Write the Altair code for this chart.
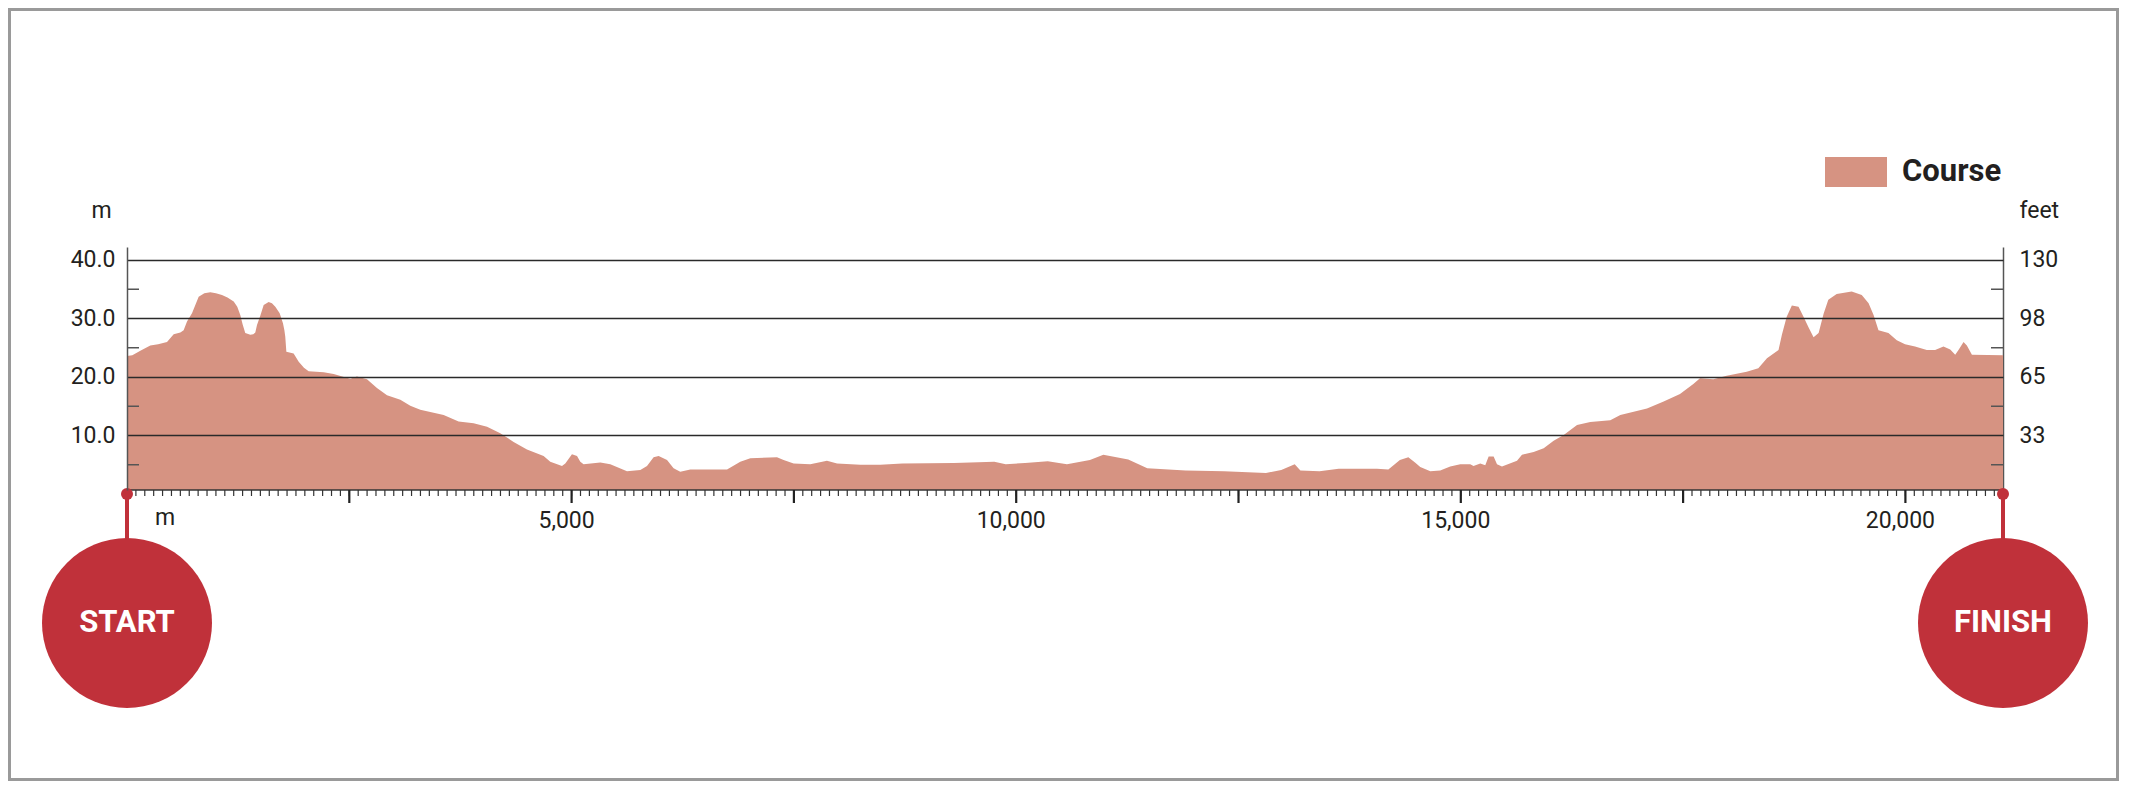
import altair as alt
import pandas as pd

# ---------------- data ----------------
DIST = [0, 60, 150, 262, 350, 450, 525, 600, 637, 675, 731, 806, 870, 937, 1000,
        1068, 1130, 1200, 1240, 1274, 1300, 1330, 1387, 1420, 1443, 1462, 1500,
        1537, 1593, 1630, 1668, 1717, 1754, 1770, 1780, 1792, 1874, 1931, 1990,
        2043, 2212, 2324, 2420, 2511, 2586, 2699, 2811, 2924, 3074, 3186, 3298,
        3561, 3729, 3898, 4049, 4198, 4348, 4498, 4685, 4760, 4892, 4929, 5004,
        5061, 5098, 5135, 5323, 5435, 5623, 5773, 5848, 5922, 5979, 6073, 6147,
        6222, 6335, 6748, 6897, 7010, 7310, 7384, 7497, 7684, 7872, 7985, 8247,
        8472, 8720, 9300, 9754, 9882, 10100, 10355, 10571, 10829, 10980, 11260,
        11474, 11905, 12336, 12809, 12981, 13132, 13196, 13411, 13627, 14056,
        14185, 14315, 14410, 14485, 14544, 14657, 14769, 14881, 14994, 15106,
        15143, 15219, 15275, 15313, 15369, 15407, 15463, 15632, 15688, 15819,
        15932, 16044, 16157, 16307, 16456, 16681, 16794, 17094, 17281, 17465,
        17615, 17690, 17840, 17990, 18215, 18346, 18443, 18573, 18611, 18665,
        18723, 18798, 18854, 18910, 18967, 19024, 19080, 19133, 19227, 19396,
        19509, 19586, 19642, 19697, 19809, 19903, 19996, 20108, 20240, 20334,
        20428, 20504, 20560, 20597, 20654, 20691, 20748, 21097.5]

ELEV = [23.6, 23.7, 24.5, 25.4, 25.6, 26.0, 27.3, 27.6, 28.0, 29.5, 30.9, 33.7, 34.3,
        34.5, 34.3, 34.0, 33.6, 32.9, 32.0, 30.6, 29.0, 27.5, 27.2, 27.3, 27.6, 28.9,
        30.5, 32.3, 32.8, 32.6, 32.0, 30.9, 29.2, 28.0, 26.9, 24.3, 24.0, 22.6, 21.6,
        21.0, 20.8, 20.5, 20.1, 19.7, 20.1, 19.6, 18.1, 16.9, 16.1, 15.1, 14.4, 13.5,
        12.4, 12.1, 11.5, 10.4, 8.9, 7.6, 6.5, 5.5, 4.8, 5.2, 6.8, 6.5, 5.5, 5.1, 5.4,
        5.1, 3.9, 4.1, 4.8, 6.3, 6.5, 5.8, 4.4, 3.8, 4.2, 4.2, 5.5, 6.1, 6.3, 5.8, 5.2,
        5.1, 5.7, 5.2, 5.0, 5.0, 5.2, 5.3, 5.5, 5.1, 5.3, 5.6, 5.1, 5.8, 6.7, 5.9, 4.4,
        4.0, 3.9, 3.6, 4.1, 5.1, 4.0, 3.9, 4.3, 4.3, 4.2, 5.8, 6.3, 5.4, 4.6, 3.9, 4.0,
        4.7, 5.1, 5.1, 4.8, 5.2, 4.9, 6.4, 6.4, 5.1, 4.7, 5.7, 6.7, 7.2, 7.8, 9.1, 10.1,
        11.8, 12.3, 12.6, 13.5, 14.6, 15.8, 17.1, 18.8, 19.8, 19.6, 20.2, 20.9, 21.5,
        23.2, 24.6, 27.2, 30.3, 32.2, 32.0, 30.3, 28.5, 26.8, 27.5, 30.8, 33.2, 34.2,
        34.6, 34.0, 32.6, 30.6, 28.0, 27.5, 26.3, 25.6, 25.2, 24.6, 24.6, 25.2, 24.7,
        23.8, 24.6, 26.0, 25.4, 23.8, 23.7]

SERIES = "Course"
GRID_M = [10, 20, 30, 40]
FEET_LABELS = ["33", "65", "98", "130"]
INNER_TICKS_M = [5, 15, 25, 35]
MAJOR_TICKS = [2500, 5000, 7500, 10000, 12500, 15000, 17500, 20000]
LABEL_TICKS = [5000, 10000, 15000, 20000]
MINOR_TICKS = list(range(0, 21001, 100))
X_UNIT = "m"
MARKERS = ["START", "FINISH"]
MARKER_DIST = [0, 21097.5]

# ---------------- style ----------------
W, H = 1876, 243
X_MAX = 21097.5
Y_MIN, Y_MAX = 0.684, 42.22
AREA_COLOR = "#D69382"
RED = "#C0313A"
INK = "#231f20"
AXIS_GREY = "#555555"
TICK = "#333333"
FONT = "Roboto"
FS = 23
CIRCLE_Y = 376
CIRCLE_D = 170

xscale = alt.Scale(domain=[0, X_MAX], nice=False, zero=False)
yscale = alt.Scale(domain=[Y_MIN, Y_MAX], nice=False, zero=False)

df = pd.DataFrame({"dist": DIST, "elev": ELEV, "series": [SERIES] * len(DIST)})

feet_expr = " : ".join(
    f"datum.value === {m} ? '{f}'" for m, f in zip(GRID_M, FEET_LABELS)
) + " : ''"

# frame around the whole graphic
frame = alt.Chart(pd.DataFrame({"k": [0]})).mark_rect(
    fill="white", fillOpacity=0, stroke="#9a9a9a", strokeWidth=3
).encode(
    x=alt.value(-117.5), x2=alt.value(W + 114.5),
    y=alt.value(-237.5), y2=alt.value(532.5),
)

area = alt.Chart(df).mark_area(interpolate="linear", opacity=1).encode(
    x=alt.X("dist:Q", scale=xscale, axis=None),
    y=alt.Y("elev:Q", scale=yscale, stack=None, axis=alt.Axis(
        orient="left", values=GRID_M, format=".1f", ticks=False, tickSize=0,
        domainColor=AXIS_GREY, domainWidth=1.5, grid=True, gridColor="#2a2a2a",
        gridWidth=1.3, zindex=1, labelPadding=12, labelFont=FONT, labelFontSize=FS,
        labelColor=INK, title="m", titleAngle=0, titleX=-26, titleY=-30,
        titleAlign="center", titleBaseline="alphabetic", titleFont=FONT,
        titleFontSize=FS, titleFontWeight="normal", titleColor=INK)),
    y2=alt.value(H),
    color=alt.Color("series:N", scale=alt.Scale(domain=[SERIES], range=[AREA_COLOR]),
                    legend=alt.Legend(
                        title=None, orient="none", legendX=1698, legendY=-106,
                        symbolType="M-1,-0.48H1V0.48H-1Z", symbolSize=3844,
                        symbolStrokeWidth=0, symbolOpacity=1, padding=0,
                        labelFont=FONT, labelFontSize=31, labelFontWeight="bold",
                        labelColor=INK, labelOffset=15)),
)

# distance axis drawn from the x scale: baseline, 100 m ticks, 2,500 m ticks, labels
baseline = alt.Chart(pd.DataFrame({"k": [0]})).mark_rule(
    color=TICK, strokeWidth=1.5
).encode(x=alt.value(0), x2=alt.value(W), y=alt.value(H))

minor = alt.Chart(pd.DataFrame({"dist": MINOR_TICKS})).mark_rule(
    color=TICK, strokeWidth=1.2
).encode(
    x=alt.X("dist:Q", scale=xscale, axis=None),
    y=alt.value(H), y2=alt.value(H + 6),
)

major = alt.Chart(pd.DataFrame({"dist": MAJOR_TICKS})).mark_rule(
    color="#222222", strokeWidth=2.2
).encode(
    x=alt.X("dist:Q", scale=xscale, axis=None),
    y=alt.value(H), y2=alt.value(H + 13),
)

xlabels = alt.Chart(pd.DataFrame({"dist": LABEL_TICKS})).mark_text(
    font=FONT, fontSize=FS, color=INK, align="center", baseline="alphabetic", dx=-5
).encode(
    x=alt.X("dist:Q", scale=xscale, axis=None),
    y=alt.value(H + 38),
    text=alt.Text("dist:Q", format=","),
)

xunit = alt.Chart(pd.DataFrame({"t": [X_UNIT]})).mark_text(
    font=FONT, fontSize=FS, color=INK, align="center", baseline="alphabetic"
).encode(x=alt.value(38), y=alt.value(H + 35), text="t:N")

left_ticks = alt.Chart(pd.DataFrame({"v": INNER_TICKS_M})).mark_rule(
    color=AXIS_GREY, strokeWidth=1.5
).encode(
    y=alt.Y("v:Q", scale=yscale, axis=None),
    x=alt.value(0), x2=alt.value(12),
)

right_ticks = alt.Chart(pd.DataFrame({"v": INNER_TICKS_M})).mark_rule(
    color=AXIS_GREY, strokeWidth=1.5
).encode(
    y=alt.Y("v:Q", scale=yscale, axis=alt.Axis(
        orient="right", values=GRID_M, labelExpr=feet_expr, ticks=False, tickSize=0,
        domainColor=AXIS_GREY, domainWidth=1.5, grid=False, labelPadding=16,
        labelFont=FONT, labelFontSize=FS, labelColor=INK,
        title="feet", titleAngle=0, titleX=16, titleY=-30, titleAlign="left",
        titleBaseline="alphabetic", titleFont=FONT, titleFontSize=FS,
        titleFontWeight="normal", titleColor=INK)),
    x=alt.value(W - 12), x2=alt.value(W),
)

markers_df = pd.DataFrame({"dist": MARKER_DIST, "label": MARKERS})

stems = alt.Chart(markers_df).mark_rule(color=RED, strokeWidth=4).encode(
    x=alt.X("dist:Q", scale=xscale, axis=None),
    y=alt.value(H + 4), y2=alt.value(CIRCLE_Y),
)

dots = alt.Chart(markers_df).mark_point(filled=True, opacity=1, color=RED, size=144).encode(
    x=alt.X("dist:Q", scale=xscale, axis=None),
    y=alt.value(H + 4),
)

circles = alt.Chart(markers_df).mark_point(
    filled=True, opacity=1, color=RED, size=CIRCLE_D ** 2, shape="circle"
).encode(
    x=alt.X("dist:Q", scale=xscale, axis=None),
    y=alt.value(CIRCLE_Y),
)

circle_text = alt.Chart(markers_df).mark_text(
    color="white", font=FONT, fontSize=31, fontWeight="bold",
    align="center", baseline="middle"
).encode(
    x=alt.X("dist:Q", scale=xscale, axis=None),
    y=alt.value(CIRCLE_Y),
    text="label:N",
)

chart = alt.layer(
    frame, area, baseline, minor, major, xlabels, xunit, left_ticks, right_ticks,
    stems, dots, circles, circle_text
).resolve_scale(y="shared").resolve_axis(y="independent").properties(
    width=W, height=H, padding=0, background="white"
).configure_view(stroke=None)

chart.save("out.html", embed_options={"renderer": "svg", "actions": False})
